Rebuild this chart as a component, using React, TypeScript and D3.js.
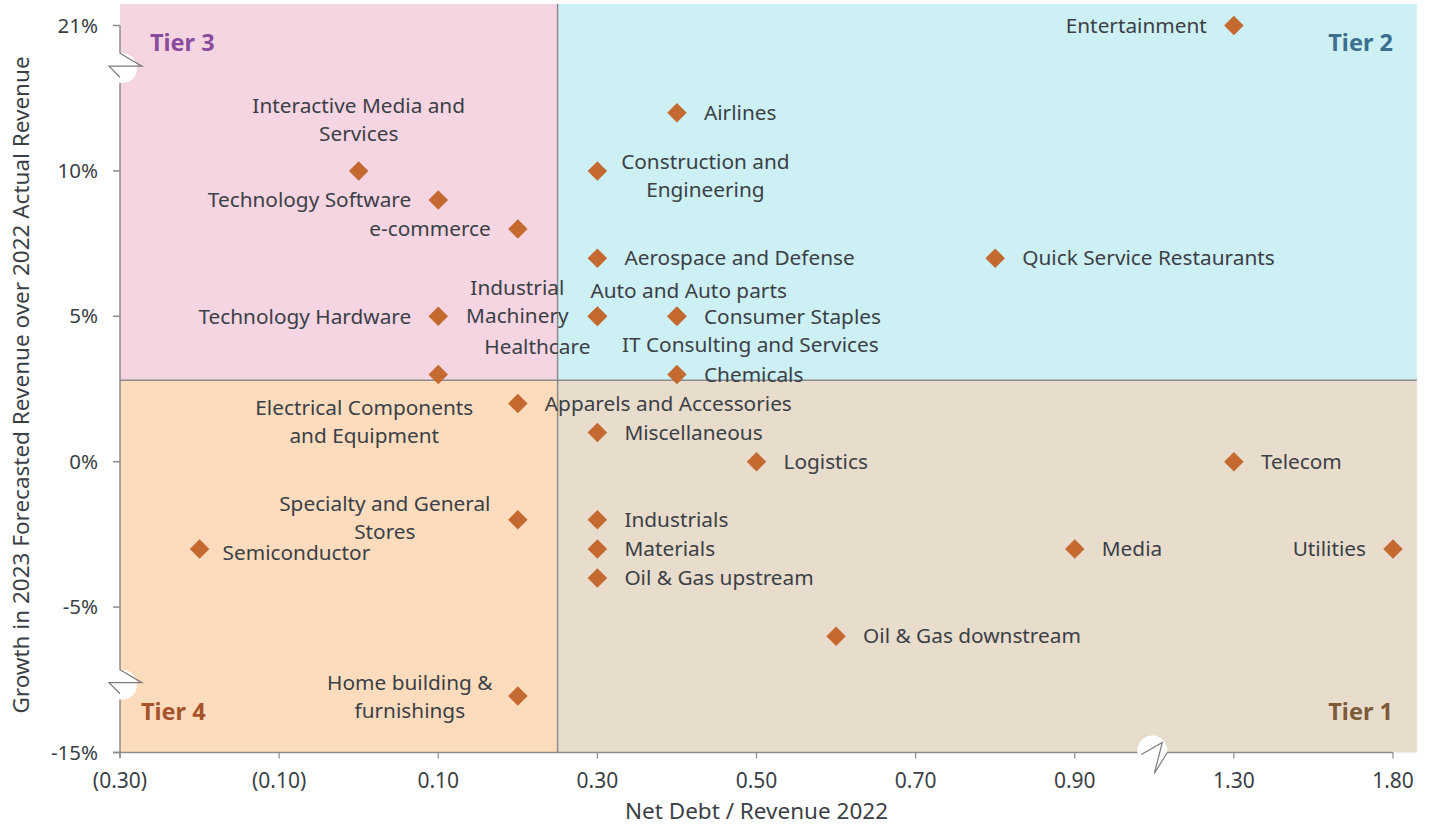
import {useEffect, useRef} from 'react';
import * as d3 from 'd3';

// data: [sector, net debt / revenue 2022, growth 2023 vs 2022 (%)]
const sectors = [
  'Entertainment', 'Airlines', 'Construction and Engineering', 'Aerospace and Defense',
  'Quick Service Restaurants', 'Auto and Auto parts', 'Industrial Machinery', 'Healthcare',
  'Consumer Staples', 'IT Consulting and Services', 'Chemicals', 'Technology Hardware',
  'Electrical Components and Equipment', 'Interactive Media and Services', 'Technology Software',
  'e-commerce', 'Apparels and Accessories', 'Miscellaneous', 'Logistics', 'Telecom',
  'Specialty and General Stores', 'Semiconductor', 'Industrials', 'Materials',
  'Oil & Gas upstream', 'Media', 'Utilities', 'Oil & Gas downstream', 'Home building & furnishings',
];
const netDebt = [
  1.3, 0.4, 0.3, 0.3, 0.8, 0.3, 0.3, 0.3, 0.4, 0.4, 0.4, 0.1,
  0.1, 0.0, 0.1, 0.2, 0.2, 0.3, 0.5, 1.3, 0.2, -0.2, 0.3, 0.3,
  0.3, 0.9, 1.8, 0.6, 0.2,
];
const growth = [
  21, 12, 10, 7, 7, 5, 5, 5, 5, 5, 3, 5,
  3, 10, 9, 8, 2, 1, 0, 0, -2, -3, -2, -3,
  -4, -3, -3, -6, -9,
];

const xTicks = [-0.3, -0.1, 0.1, 0.3, 0.5, 0.7, 0.9, 1.3, 1.8];
const yTicks = [-15, -5, 0, 5, 10, 21];
const xSplit = 0.25;
const ySplit = 2.8;

// label placement: [anchor, dx, dy of first line, line breaks]
const labelPos: Record<string, [string, number, number, string[]?]> = {
  'Entertainment': ['end', -27, 0],
  'Construction and Engineering': ['middle', 108, -9, ['Construction and', 'Engineering']],
  'Auto and Auto parts': ['start', -7, -26],
  'Industrial Machinery': ['middle', -80, -29, ['Industrial', 'Machinery']],
  'Healthcare': ['end', -7, 30],
  'IT Consulting and Services': ['start', -55, 28],
  'Technology Hardware': ['end', -27, 0],
  'Electrical Components and Equipment': ['middle', -74, 33, ['Electrical Components', 'and Equipment']],
  'Interactive Media and Services': ['middle', 0, -65, ['Interactive Media and', 'Services']],
  'Technology Software': ['end', -27, 0],
  'e-commerce': ['end', -27, 0],
  'Specialty and General Stores': ['middle', -133, -16, ['Specialty and General', 'Stores']],
  'Semiconductor': ['start', 23, 4],
  'Utilities': ['end', -27, 0],
  'Home building & furnishings': ['middle', -108, -13, ['Home building &', 'furnishings']],
};

const W = 1431;
const H = 827;

const App = () => {
  const svgRef = useRef<SVGSVGElement>(null);

  useEffect(() => {
    document.body.style.margin = '0';
    const svg = d3.select(svgRef.current);
    svg.selectAll('*').remove();

    const font = '"Noto Sans", sans-serif';
    const textColor = '#3b3f46';

    // display scales (linear), then broken value scales on top of them
    const xDisp = d3.scaleLinear().domain([-0.3, 1.3]).range([120, 1393]);
    const x = d3.scaleLinear()
      .domain([-0.3, 0.9, 1.3, 1.8, 1.875])
      .range([-0.3, 0.9, 1.1, 1.3, 1.33].map(xDisp));
    const yDisp = d3.scaleLinear().domain([-10, 15]).range([752.5, 25.5]);
    const y = d3.scaleLinear()
      .domain([-15, -7.6, 13.6, 21, 24.9])
      .range([-10, -7.6, 13.6, 15, 15.74].map(yDisp));

    const [x0, x1] = [x(-0.3), x(1.875)];
    const [yB, yT] = [y(-15), y(24.9)];

    // quadrants
    const quads = [
      {x: x0, y: yT, w: x(xSplit) - x0, h: y(ySplit) - yT, fill: '#f5d5e1'},
      {x: x(xSplit), y: yT, w: x1 - x(xSplit), h: y(ySplit) - yT, fill: '#cdf0f4'},
      {x: x0, y: y(ySplit), w: x(xSplit) - x0, h: yB - y(ySplit), fill: '#fddcbe'},
      {x: x(xSplit), y: y(ySplit), w: x1 - x(xSplit), h: yB - y(ySplit), fill: '#e8dccc'},
    ];
    svg.selectAll('.quad')
      .data(quads)
      .enter().append('rect')
      .attr('x', d => d.x).attr('y', d => d.y)
      .attr('width', d => d.w).attr('height', d => d.h)
      .attr('fill', d => d.fill);

    // dividers
    svg.append('line')
      .attr('x1', x(xSplit)).attr('x2', x(xSplit))
      .attr('y1', yT).attr('y2', yB)
      .attr('stroke', '#8c8c8c').attr('stroke-width', 1.5);
    svg.append('line')
      .attr('x1', x0).attr('x2', x1)
      .attr('y1', y(ySplit)).attr('y2', y(ySplit))
      .attr('stroke', '#8c8c8c').attr('stroke-width', 1.5);

    // tier labels
    const tiers = [
      {t: 'Tier 3', x: x0 + 30, y: yDisp(14.4), a: 'start', c: '#8a4c9c'},
      {t: 'Tier 2', x: xDisp(1.3), y: yDisp(14.4), a: 'end', c: '#3d6f8e'},
      {t: 'Tier 4', x: x0 + 21, y: yDisp(-8.6), a: 'start', c: '#a6532c'},
      {t: 'Tier 1', x: xDisp(1.3), y: yDisp(-8.6), a: 'end', c: '#7d5a38'},
    ];
    svg.selectAll('.tier')
      .data(tiers)
      .enter().append('text')
      .attr('x', d => d.x).attr('y', d => d.y)
      .attr('dy', '0.35em')
      .attr('text-anchor', d => d.a)
      .style('font-family', font).style('font-weight', 700).style('font-size', '23.5px')
      .style('fill', d => d.c)
      .text(d => d.t);

    // axes
    const axisColor = '#8c8c8c';
    svg.append('line')
      .attr('x1', x0).attr('x2', x0).attr('y1', y(21)).attr('y2', yB + 5)
      .attr('stroke', axisColor).attr('stroke-width', 1.5);
    svg.append('line')
      .attr('x1', x0 - 7).attr('x2', xDisp(1.3)).attr('y1', yB).attr('y2', yB)
      .attr('stroke', axisColor).attr('stroke-width', 1.5);

    svg.selectAll('.ytick')
      .data(yTicks)
      .enter().append('line')
      .attr('x1', x0 - 7).attr('x2', x0)
      .attr('y1', d => y(d)).attr('y2', d => y(d))
      .attr('stroke', axisColor).attr('stroke-width', 1.5);
    svg.selectAll('.ylab')
      .data(yTicks)
      .enter().append('text')
      .attr('x', x0 - 22).attr('y', d => y(d))
      .attr('dy', '0.35em')
      .attr('text-anchor', 'end')
      .style('font-family', font).style('font-size', '20.5px').style('fill', textColor)
      .text(d => `${d}%`);

    svg.selectAll('.xtick')
      .data(xTicks)
      .enter().append('line')
      .attr('x1', d => x(d)).attr('x2', d => x(d))
      .attr('y1', yB).attr('y2', yB + 6)
      .attr('stroke', axisColor).attr('stroke-width', 1.2);
    svg.selectAll('.xlab')
      .data(xTicks)
      .enter().append('text')
      .attr('x', d => x(d)).attr('y', yB + 35)
      .attr('text-anchor', 'middle')
      .style('font-family', font).style('font-size', '21px').style('fill', textColor)
      .text(d => (d < 0 ? `(${Math.abs(d).toFixed(2)})` : d.toFixed(2)));

    // axis breaks
    const brk = (cx: number, cy: number, pts: [number, number][]) => {
      svg.append('circle')
        .attr('cx', cx).attr('cy', cy).attr('r', 15).attr('fill', '#fff');
      svg.append('path')
        .attr('d', d3.line()(pts))
        .attr('fill', 'none').attr('stroke', '#7a7a7a').attr('stroke-width', 1.2);
    };
    [13.6, -7.6].forEach(v => {
      const cy = y(v);
      brk(x0 + 2, cy + 2, [[x0, cy - 13], [x0 + 22, cy], [x0 - 11, cy], [x0, cy + 11]]);
    });
    {
      const cx = xDisp(1.0);
      brk(cx - 2, yB - 2, [[cx - 13, yB + 2], [cx + 8, yB - 10], [cx, yB + 21], [cx + 13, yB]]);
    }

    // points
    const pts = sectors.map((s, i) => ({name: s, x: netDebt[i], y: growth[i]}));
    svg.selectAll('.pt')
      .data(pts)
      .enter().append('path')
      .attr('d', d3.symbol().type(d3.symbolSquare).size(190)())
      .attr('transform', d => `translate(${x(d.x)},${y(d.y)}) rotate(45)`)
      .attr('fill', '#c4692f');

    // labels
    pts.forEach(d => {
      const [anchor, dx, dy, lines] = labelPos[d.name] || ['start', 27, 0];
      const t = svg.append('text')
        .attr('text-anchor', anchor)
        .style('font-family', font).style('font-size', '20.8px').style('fill', textColor);
      (lines || [d.name]).forEach((ln, k) => {
        t.append('tspan')
          .attr('x', x(d.x) + dx)
          .attr('y', y(d.y) + dy + k * 28)
          .attr('dy', '0.35em')
          .text(ln);
      });
    });

    // axis titles
    svg.append('text')
      .attr('x', (x0 + xDisp(1.3)) / 2).attr('y', H - 8)
      .attr('text-anchor', 'middle')
      .style('font-family', font).style('font-size', '22.5px').style('fill', textColor)
      .text('Net Debt / Revenue 2022');
    svg.append('text')
      .attr('transform', `translate(21, ${(y(21) + yB) / 2 - 4}) rotate(-90)`)
      .attr('dy', '0.35em')
      .attr('text-anchor', 'middle')
      .style('font-family', font).style('font-size', '22.5px').style('fill', textColor)
      .text('Growth in 2023 Forecasted Revenue over 2022 Actual Revenue');
  }, []);

  return <svg ref={svgRef} width={W} height={H} style={{display: 'block', background: '#fff'}} />;
};

export default App;
